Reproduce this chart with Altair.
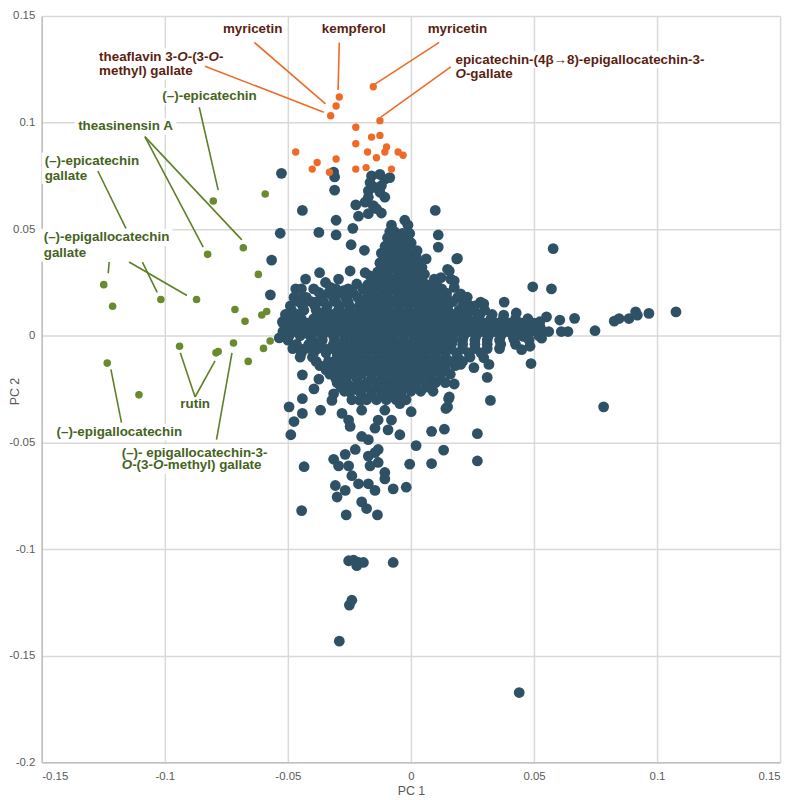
import altair as alt
import pandas as pd

# ---------------- data ----------------
blue_outer = [
    (-0.0526, 0.0762), (-0.0314, 0.0768), (-0.031, 0.0745), (-0.031, 0.0683),
    (-0.016, 0.075), (-0.0126, 0.0757), (-0.0106, 0.0734), (-0.0086, 0.0742), (-0.0166, 0.0719),
    (-0.012, 0.0704), (-0.0146, 0.0696), (-0.0173, 0.068), (-0.0126, 0.0673), (-0.0106, 0.065), (-0.0173, 0.065),
    (-0.0224, 0.0614), (-0.0186, 0.0627), (-0.0153, 0.0611), (-0.0173, 0.0573), (-0.0213, 0.0561),
    (-0.012, 0.0576), (-0.014, 0.0596),
    (-0.0441, 0.0588), (-0.0304, 0.0542), (0.0099, 0.0588),
    (-0.0531, 0.0481), (-0.0374, 0.0485), (-0.0304, 0.0473), (-0.0236, 0.0504),
    (-0.0079, 0.0519), (-0.0086, 0.0488), (-0.0093, 0.0458), (-0.0079, 0.0427), (-0.0066, 0.0488),
    (-0.0025, 0.0542), (-0.0012, 0.0519), (-0.0005, 0.048), (0.0001, 0.0435),
    (-0.0243, 0.0427), (-0.0189, 0.0401), (0.0111, 0.0473), (0.0111, 0.0416), (0.0186, 0.0361),
    (0.0021, 0.0373), (0.0062, 0.0361), (-0.0566, 0.0355),
    (-0.012, 0.0388), (-0.0126, 0.0342), (-0.012, 0.0296), (-0.0079, 0.0358), (-0.0039, 0.0388), (-0.0032, 0.0327),
    (0.0156, 0.0304), (0.0176, 0.0258),
    (-0.0371, 0.0296), (-0.0247, 0.0304), (-0.0186, 0.0296), (-0.0166, 0.0281), (-0.0347, 0.025),
    (-0.0428, 0.0266), (-0.0468, 0.022), (-0.0441, 0.0181), (-0.0294, 0.0266), (-0.0274, 0.0212),
    (-0.022, 0.0243), (-0.0327, 0.0227), (-0.0374, 0.0204), (-0.0388, 0.0158),
    (0.0055, 0.0289), (0.0095, 0.0266), (0.0122, 0.0273), (0.0028, 0.0258),
    (-0.0571, 0.0192), (-0.0522, 0.0066), (-0.0481, 0.0081), (-0.0535, -0.001), (-0.0495, 0.002),
    (0.0283, 0.0158), (0.0296, 0.015), (0.0216, 0.0181), (0.0236, 0.0143),
    (0.0578, 0.0409), (0.0189, 0.0363), (0.0495, 0.023), (0.0571, 0.022), (0.0379, 0.0158), (0.0428, 0.0107),
    (0.0377, 0.0097), (0.0551, 0.0089), (0.0605, 0.0074), (0.0665, 0.0082), (0.0611, 0.002), (0.0638, 0.002),
    (0.0748, 0.0024), (0.0826, 0.0069), (0.0846, 0.0081), (0.0886, 0.0081), (0.0913, 0.0112), (0.092, 0.0097),
    (0.0967, 0.0105), (0.1077, 0.0112),
    (0.0323, -0.0303), (0.0783, -0.0333), (0.0488, -0.013), (0.045, -0.0065), (0.0484, -0.0049),
    (0.031, -0.0195), (0.0317, -0.0134), (0.0296, -0.0103), (0.0256, -0.0149), (0.0202, -0.0134),
    (0.0176, -0.0226), (0.0156, -0.0287), (0.0149, -0.0333),
    (0.0323, 0.0035), (0.0363, 0.002), (0.0417, 0.0035), (0.0471, 0.0051), (0.0524, 0.0066), (0.0417, -0.0011),
    (0.0457, -0.0003), (0.0531, -0.0011), (0.0538, 0.002), (0.0283, 0.0051), (0.0229, 0.0066), (0.0215, 0.0097),
    (0.0269, 0.0081),
    (0.0149, 0.0312), (0.0162, 0.0266), (0.0176, 0.0227), (0.0202, 0.0197), (0.0229, 0.0181),
    (-0.0441, -0.0183), (-0.0394, -0.0249), (-0.0374, -0.0203),
    (-0.0441, -0.0295), (-0.0495, -0.0333), (-0.0441, -0.0364), (-0.0475, -0.0402), (-0.0488, -0.0464),
    (-0.0367, -0.0349),
    (-0.0314, -0.0272), (-0.0321, -0.0303), (-0.0274, -0.0234), (-0.0247, -0.0264), (-0.0213, -0.0226),
    (-0.0206, -0.0303),
    (-0.028, -0.0364), (-0.0253, -0.0395), (-0.0247, -0.0425), (-0.02, -0.0349),
    (-0.0146, -0.0433), (-0.0093, -0.0441), (-0.0133, -0.0395), (-0.0079, -0.0395), (-0.0106, -0.0349),
    (-0.0045, -0.0318), (-0.0045, -0.0464),
    (0.0001, -0.0356), (0.0021, -0.0515),
    (0.0084, -0.0448), (0.0136, -0.0438), (0.0153, -0.0295), (0.0142, -0.0341), (0.027, -0.0459), (0.027, -0.0587),
    (0.0133, -0.0536), (0.0084, -0.0599),
    (-0.0005, -0.0602), (-0.0019, -0.071),
    (-0.0434, -0.0614), (-0.0444, -0.082),
    (-0.0314, -0.0579), (-0.0294, -0.061), (-0.0253, -0.061), (-0.0226, -0.0533), (-0.02, -0.0472),
    (-0.0173, -0.0487), (-0.0267, -0.0556),
    (-0.0173, -0.0564), (-0.0146, -0.0548), (-0.0133, -0.0533), (-0.0166, -0.061), (-0.0133, -0.0594),
    (-0.0106, -0.0641), (-0.0106, -0.0671),
    (-0.024, -0.0656), (-0.0213, -0.0694), (-0.0173, -0.0694), (-0.0146, -0.0725),
    (-0.0307, -0.0702), (-0.03, -0.0756), (-0.0267, -0.0725),
    (-0.0072, -0.0718), (-0.02, -0.0779), (-0.018, -0.081),
    (-0.0263, -0.084), (-0.0136, -0.084),
    (-0.0253, -0.1055), (-0.0233, -0.1052), (-0.0213, -0.1063), (-0.0193, -0.1063), (-0.022, -0.1078),
    (-0.0072, -0.1063),
    (-0.025, -0.1263), (-0.024, -0.124),
    (-0.0291, -0.1432),
    (0.044, -0.1673),
]

# dense core of the blue cloud, read row by row (y, [x...])
core_rows = [
    (0.048, [-0.0075, -0.0035]),
    (0.046, [-0.0095, -0.0055, -0.0015]),
    (0.044, [-0.0085, -0.0045, -0.0005]),
    (0.042, [-0.0105, -0.0065, -0.0025]),
    (0.040, [-0.0095, -0.0055, -0.0015, 0.0025]),
    (0.038, [-0.0115, -0.0075, -0.0035, 0.0005]),
    (0.036, [-0.0105, -0.0065, -0.0025, 0.0015]),
    (0.034, [-0.0125, -0.0085, -0.0045, -0.0005, 0.0035]),
    (0.032, [-0.0115, -0.0075, -0.0035, 0.0005, 0.0045]),
    (0.030, [-0.0135, -0.0095, -0.0055, -0.0015, 0.0025]),
    (0.028, [-0.0135, -0.0095, -0.0055, -0.0015, 0.0025]),
    (0.026, [-0.0155, -0.0115, -0.0075, -0.0035, 0.0005, 0.0045]),
    (0.024, [-0.0175, -0.0135, -0.0095, -0.0055, -0.0015, 0.0025, 0.0065, 0.0105]),
    (0.022, [-0.0445, -0.0395, -0.0305, -0.0255, -0.0195, -0.0155, -0.0115, -0.0075, -0.0035,
             0.0005, 0.0045, 0.0085, 0.0125]),
    (0.020, [-0.0335, -0.0285, -0.0235, -0.0175, -0.0135, -0.0095, -0.0055, -0.0015, 0.0025,
             0.0065, 0.0105, 0.0145]),
    (0.018, [-0.0475, -0.0425, -0.0365, -0.0315, -0.0265, -0.0215, -0.0175, -0.0135, -0.0095,
             -0.0055, -0.0015, 0.0025, 0.0065, 0.0105, 0.0145, 0.019]),
    (0.016, [-0.0455, -0.0405, -0.0355, -0.0305, -0.0255, -0.0195, -0.0155, -0.0115, -0.0075,
             -0.0035, 0.0005, 0.0045, 0.0085, 0.0125, 0.017, 0.0225]),
    (0.014, [-0.049, -0.044, -0.039, -0.034, -0.029, -0.025, -0.021, -0.017, -0.013, -0.009,
             -0.005, -0.001, 0.003, 0.007, 0.011, 0.015, 0.021, 0.026]),
    (0.012, [-0.0485, -0.0435, -0.0385, -0.0345, -0.0295, -0.025, -0.021, -0.017, -0.013, -0.009,
             -0.005, -0.001, 0.003, 0.007, 0.011, 0.015, 0.0195, 0.025, 0.030]),
    (0.010, [-0.051, -0.046, -0.0365, -0.032, -0.027, -0.023, -0.019, -0.015, -0.011, -0.007,
             -0.003, 0.001, 0.005, 0.009, 0.013, 0.017, 0.023, 0.028, 0.033]),
    (0.008, [-0.0495, -0.0445, -0.0395, -0.0345, -0.030, -0.026, -0.022, -0.018, -0.014, -0.010,
             -0.006, -0.002, 0.002, 0.006, 0.010, 0.014, 0.018, 0.0225, 0.0275, 0.0325, 0.0375,
             0.0425, 0.0475]),
    (0.006, [-0.052, -0.047, -0.042, -0.037, -0.033, -0.028, -0.024, -0.020, -0.016, -0.012,
             -0.008, -0.004, 0.000, 0.004, 0.008, 0.012, 0.016, 0.020, 0.025, 0.030, 0.035,
             0.040, 0.045, 0.050]),
    (0.004, [-0.0495, -0.045, -0.040, -0.0355, -0.031, -0.027, -0.023, -0.019, -0.015, -0.011,
             -0.007, -0.003, 0.001, 0.005, 0.009, 0.013, 0.017, 0.0215, 0.0265, 0.0315, 0.0365,
             0.0415, 0.0465, 0.0525]),
    (0.002, [-0.052, -0.047, -0.043, -0.038, -0.034, -0.029, -0.025, -0.021, -0.017, -0.013,
             -0.009, -0.005, -0.001, 0.003, 0.007, 0.011, 0.015, 0.019, 0.024, 0.029, 0.034,
             0.039, 0.044, 0.049, 0.056]),
    (0.000, [-0.0495, -0.045, -0.041, -0.036, -0.0315, -0.027, -0.023, -0.019, -0.015, -0.011,
             -0.007, -0.003, 0.001, 0.005, 0.009, 0.013, 0.017, 0.0215, 0.0265, 0.0315, 0.0365,
             0.0415, 0.0465, 0.052]),
    (-0.002, [-0.05, -0.04, -0.036, -0.031, -0.027, -0.023, -0.019, -0.015, -0.011, -0.007,
              -0.003, 0.001, 0.005, 0.009, 0.013, 0.017, 0.021, 0.026, 0.031, 0.036, 0.042, 0.048]),
    (-0.004, [-0.0465, -0.0415, -0.0365, -0.0315, -0.0275, -0.0235, -0.0195, -0.0155, -0.0115,
              -0.0075, -0.0035, 0.0005, 0.0045, 0.0085, 0.0125, 0.0165, 0.021, 0.026, 0.031,
              0.0365, 0.0425]),
    (-0.006, [-0.048, -0.043, -0.038, -0.033, -0.028, -0.024, -0.020, -0.016, -0.012, -0.008,
              -0.004, 0.000, 0.004, 0.008, 0.012, 0.016, 0.021, 0.026, 0.031, 0.036]),
    (-0.008, [-0.0445, -0.0395, -0.0345, -0.030, -0.026, -0.022, -0.018, -0.014, -0.010, -0.006,
              -0.002, 0.002, 0.006, 0.010, 0.014, 0.0185, 0.0235, 0.0285]),
    (-0.010, [-0.045, -0.040, -0.030, -0.026, -0.022, -0.018, -0.014, -0.010, -0.006, -0.002,
              0.002, 0.006, 0.010, 0.014, 0.019, 0.024]),
    (-0.012, [-0.0385, -0.0335, -0.0285, -0.0245, -0.0205, -0.0165, -0.0125, -0.0085, -0.0045,
              -0.0005, 0.0035, 0.0075, 0.0115, 0.016, 0.021]),
    (-0.014, [-0.037, -0.032, -0.027, -0.023, -0.019, -0.015, -0.011, -0.007, -0.003, 0.001,
              0.005, 0.009, 0.013, 0.018]),
    (-0.016, [-0.0345, -0.030, -0.026, -0.022, -0.018, -0.014, -0.010, -0.006, -0.002, 0.002,
              0.006, 0.010, 0.014]),
    (-0.018, [-0.033, -0.028, -0.024, -0.020, -0.016, -0.012, -0.008, -0.004, 0.000, 0.004,
              0.008, 0.012, 0.016]),
    (-0.020, [-0.0305, -0.0265, -0.022, -0.016, -0.012, -0.008, -0.004, 0.000, 0.004, 0.008, 0.012]),
    (-0.022, [-0.030, -0.026, -0.018, -0.014, -0.010, -0.006, -0.002, 0.002, 0.006, 0.010, 0.014]),
    (-0.024, [-0.0285, -0.0235, -0.018, -0.014, -0.010, -0.006, -0.002, 0.002, 0.0065]),
    (-0.026, [-0.027, -0.021, -0.016, -0.012, -0.008, -0.004, 0.000, 0.004, 0.009]),
    (-0.028, [-0.020, -0.016, -0.012, -0.008, -0.004]),
    (-0.030, [-0.024, -0.018, -0.014, -0.010, -0.006, -0.002]),
]

orange_pts = [
    (-0.0153, 0.1168), (-0.0291, 0.112), (-0.0304, 0.1078), (-0.0326, 0.1032), (-0.0126, 0.1009),
    (-0.0224, 0.0978), (-0.016, 0.0932), (-0.0126, 0.094), (-0.0224, 0.0901), (-0.0468, 0.0862),
    (-0.0176, 0.0862), (-0.0106, 0.0862), (-0.0099, 0.0886), (-0.0052, 0.0862), (-0.0032, 0.0847),
    (-0.014, 0.0835), (-0.0304, 0.0829), (-0.0381, 0.0813), (-0.0401, 0.0782), (-0.0224, 0.0782),
    (-0.0182, 0.0789), (-0.0079, 0.0782), (-0.0331, 0.0767),
]

green_pts = [
    (-0.0803, 0.0632), (-0.0592, 0.0665), (-0.0826, 0.0382), (-0.0681, 0.0413), (-0.062, 0.0288),
    (-0.1248, 0.024), (-0.1212, 0.0139), (-0.1016, 0.017), (-0.0871, 0.017), (-0.0715, 0.0123),
    (-0.0674, 0.0068), (-0.0606, 0.0098), (-0.0586, 0.0114), (-0.0572, -0.0024), (-0.0599, -0.0059),
    (-0.094, -0.0049), (-0.0792, -0.008), (-0.0783, -0.0074), (-0.0721, -0.0034), (-0.0661, -0.012),
    (-0.1234, -0.0128), (-0.1105, -0.0277),
]

# leader lines: (x1, y1, x2, y2, group)
leaders = [
    (-0.0636, 0.1376, -0.0347, 0.1088, "o"),
    (-0.0291, 0.1376, -0.0296, 0.1153, "o"),
    (-0.0837, 0.1264, -0.0354, 0.1049, "o"),
    (0.0115, 0.1376, -0.0146, 0.118, "o"),
    (0.0162, 0.1261, -0.0122, 0.1026, "o"),
    (-0.086, 0.1072, -0.0783, 0.0683, "g"),
    (-0.1081, 0.0934, -0.0844, 0.0416, "g"),
    (-0.1081, 0.0934, -0.0687, 0.045, "g"),
    (-0.1272, 0.0773, -0.1158, 0.0504, "g"),
    (-0.1091, 0.0346, -0.1031, 0.0204, "g"),
    (-0.1226, 0.0346, -0.123, 0.0294, "g"),
    (-0.1145, 0.0346, -0.091, 0.0189, "g"),
    (-0.0877, -0.0287, -0.0937, -0.008, "g"),
    (-0.0877, -0.0287, -0.0796, -0.0118, "g"),
    (-0.1176, -0.0407, -0.1219, -0.0157, "g"),
    (-0.079, -0.0487, -0.0727, -0.008, "g"),
]

# labels: (x_left, y, group, [(text, italic), ...])
labels = [
    (-0.0764, 0.1438, "o", [("myricetin", False)]),
    (-0.0362, 0.1438, "o", [("kempferol", False)]),
    (0.0068, 0.1438, "o", [("myricetin", False)]),
    (-0.1267, 0.1309, "o", [("theaflavin 3-", False), ("O", True), ("-(3-", False), ("O", True), ("-", False)]),
    (-0.1267, 0.1240, "o", [("methyl) gallate", False)]),
    (0.0181, 0.1295, "o", [("epicatechin-(4β→8)-epigallocatechin-3-", False)]),
    (0.0181, 0.1230, "o", [("O", True), ("-gallate", False)]),
    (-0.101, 0.1124, "g", [("(–)-epicatechin", False)]),
    (-0.1352, 0.0982, "g", [("theasinensin A", False)]),
    (-0.1488, 0.0820, "g", [("(–)-epicatechin", False)]),
    (-0.1488, 0.0751, "g", [("gallate", False)]),
    (-0.1492, 0.0461, "g", [("(–)-epigallocatechin", False)]),
    (-0.1492, 0.0387, "g", [("gallate", False)]),
    (-0.0937, -0.0318, "g", [("rutin", False)]),
    (-0.144, -0.0452, "g", [("(–)-epigallocatechin", False)]),
    (-0.1175, -0.0548, "g", [("(–)- epigallocatechin-3-", False)]),
    (-0.1175, -0.0608, "g", [("O", True), ("-(3-", False), ("O", True), ("-methyl) gallate", False)]),
]

x_ticks = [-0.15, -0.1, -0.05, 0, 0.05, 0.1, 0.15]
y_ticks = [-0.2, -0.15, -0.1, -0.05, 0, 0.05, 0.1, 0.15]

# ---------------- styling ----------------
BLUE = "#2F5166"
ORANGE = "#EF6A26"
GREEN = "#6A8A2E"
LINE_COL = {"o": "#EF6A26", "g": "#5F7F27"}
TEXT_COL = {"o": "#5B1F12", "g": "#46631E"}
FONT = "Liberation Sans"
FS = 13.5
W, H = 744, 752
PX2X = 0.3 / W
PX2Y = 0.35 / H

# Arial/Liberation Sans Bold advance widths (per 1000 em)
WIDTHS = {"a": 556, "b": 611, "c": 556, "d": 611, "e": 556, "f": 333, "g": 611, "h": 611, "i": 278,
          "j": 278, "k": 556, "l": 278, "m": 889, "n": 611, "o": 611, "p": 611, "q": 611, "r": 389,
          "s": 556, "t": 333, "u": 611, "v": 556, "w": 778, "x": 556, "y": 556, "z": 500,
          "A": 722, "O": 778, " ": 278, "(": 333, ")": 333, "-": 333, "–": 556, "β": 611, "→": 1000}


def seg_px(s):
    return sum(WIDTHS.get(c, 556) for c in s) * FS / 1000.0


# ---------------- frames ----------------
blue_rows = [{"x": x, "y": y} for x, y in blue_outer]
for yv, xs in core_rows:
    for xv in xs:
        blue_rows.append({"x": xv, "y": yv})
df_blue = pd.DataFrame(blue_rows)
df_orange = pd.DataFrame(orange_pts, columns=["x", "y"])
df_green = pd.DataFrame(green_pts, columns=["x", "y"])
df_lines = pd.DataFrame([{"x": a, "y": b, "x2": c, "y2": d, "col": LINE_COL[g]} for a, b, c, d, g in leaders])

txt_rows, box_rows = [], []
for xl, yv, g, segs in labels:
    off = 0.0
    for s, it in segs:
        txt_rows.append({"x": xl + off * PX2X, "y": yv, "t": s, "it": it, "col": TEXT_COL[g]})
        off += seg_px(s)
    box_rows.append({"x": xl - 3 * PX2X, "x2": xl + (off + 3) * PX2X,
                     "y": yv - 8.5 * PX2Y, "y2": yv + 8.5 * PX2Y})
df_txt = pd.DataFrame(txt_rows)
df_box = pd.DataFrame(box_rows)

# ---------------- encodings ----------------
x_enc = alt.X("x:Q", scale=alt.Scale(domain=[-0.15, 0.15], nice=False, zero=False),
              axis=alt.Axis(values=x_ticks, title="PC 1", labelExpr="'' + datum.value",
                            labelPadding=8, titlePadding=3))
y_enc = alt.Y("y:Q", scale=alt.Scale(domain=[-0.2, 0.15], nice=False, zero=False),
              axis=alt.Axis(values=y_ticks, title="PC 2", labelExpr="'' + datum.value",
                            labelPadding=7, titleAngle=270, titleX=-27, titleY=378,
                            titleAlign="center", titleBaseline="middle"))

blue = alt.Chart(df_blue).mark_circle(size=118, color=BLUE, opacity=1).encode(x=x_enc, y=y_enc)
orange = alt.Chart(df_orange).mark_circle(size=55, color=ORANGE, opacity=1).encode(x=x_enc, y=y_enc)
green = alt.Chart(df_green).mark_circle(size=58, color=GREEN, opacity=1).encode(x=x_enc, y=y_enc)
boxes = alt.Chart(df_box).mark_rect(color="white", opacity=1).encode(
    x=x_enc, y=y_enc, x2="x2:Q", y2="y2:Q")
lines = alt.Chart(df_lines).mark_rule(strokeWidth=1.6).encode(
    x=x_enc, y=y_enc, x2="x2:Q", y2="y2:Q", color=alt.Color("col:N", scale=None))

txt_base = dict(align="left", baseline="middle", font=FONT, fontSize=FS, fontWeight="bold")
txt_n = alt.Chart(df_txt[~df_txt["it"]]).mark_text(**txt_base).encode(
    x=x_enc, y=y_enc, text="t:N", color=alt.Color("col:N", scale=None))
txt_i = alt.Chart(df_txt[df_txt["it"]]).mark_text(fontStyle="italic", **txt_base).encode(
    x=x_enc, y=y_enc, text="t:N", color=alt.Color("col:N", scale=None))

chart = alt.layer(blue, orange, green, boxes, lines, txt_n, txt_i).properties(
    width=W, height=H,
    autosize=alt.AutoSizeParams(type="none"),
    padding={"left": 34, "top": 5, "right": 12, "bottom": 36},
).configure_axis(
    labelFont=FONT, labelFontSize=11.5, labelColor="#595959",
    titleFont=FONT, titleFontSize=12.5, titleFontWeight="normal", titleColor="#595959",
    gridColor="#d9d9d9", gridWidth=1.5, domainColor="#bfbfbf", domainWidth=1.5,
    ticks=False, tickSize=0,
).configure_view(strokeWidth=0)

chart.save("out.html", embed_options={"renderer": "svg", "actions": False})
